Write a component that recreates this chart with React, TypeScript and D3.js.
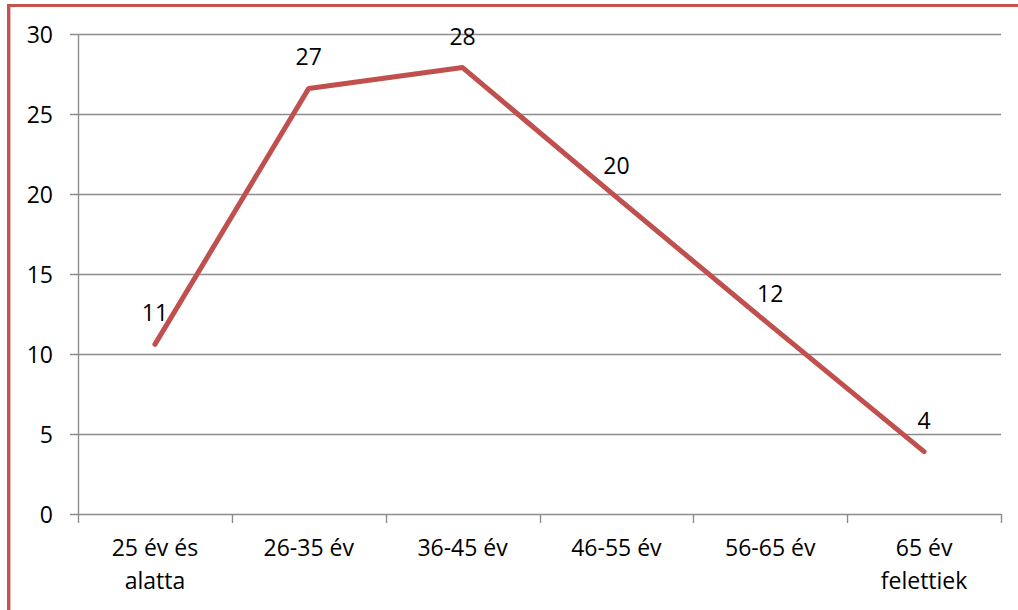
import React from "react";
import * as d3 from "d3";

// Age groups (two-line category labels) and their share values
const categories = ["25 év és|alatta", "26-35 év", "36-45 év", "46-55 év", "56-65 év", "65 év|felettiek"];
const values = [10.6, 26.6, 27.9, 19.8, 11.8, 3.9];
const yTicks = [0, 5, 10, 15, 20, 25, 30];

const W = 1018;
const H = 610;
const FONT = "'Open Sans', sans-serif";
const FONT_SIZE = 23;
const LINE_COLOR = "#C0504D";
const FRAME_COLOR = "#C4524F";
const GRID_COLOR = "#8C8C8C";

export default function App() {
  const x = d3.scaleBand<string>().domain(categories).range([78, 1001]).padding(0);
  const y = d3.scaleLinear().domain([0, 30]).range([514, 34]);
  const cx = (c: string) => (x(c) as number) + x.bandwidth() / 2;
  const fmt = d3.format(".0f");

  const line = d3
    .line<number>()
    .x((_, i) => cx(categories[i]))
    .y((d) => y(d));

  const boundaries = [...categories.map((c) => x(c) as number), x.range()[1]];

  return (
    <svg
      width={W}
      height={H}
      style={{ position: "fixed", left: 0, top: 0, display: "block", background: "#fff" }}
      fontFamily={FONT}
    >
      <rect x={0} y={0} width={W} height={H} fill="#fff" />

      {/* chart frame (top and left edges) */}
      <line x1={7} x2={W} y1={5.5} y2={5.5} stroke={FRAME_COLOR} strokeWidth={3.2} />
      <line x1={8.7} x2={8.7} y1={4} y2={H} stroke={FRAME_COLOR} strokeWidth={3.4} />

      {/* horizontal gridlines with outer tick stubs */}
      {yTicks.map((t) => (
        <line
          key={"g" + t}
          x1={70}
          x2={1001}
          y1={Math.round(y(t)) + 0.5}
          y2={Math.round(y(t)) + 0.5}
          stroke={GRID_COLOR}
          strokeWidth={1.4}
        />
      ))}

      {/* y axis */}
      <line x1={78.5} x2={78.5} y1={y(30)} y2={y(0) + 0.5} stroke={GRID_COLOR} strokeWidth={1.4} />
      {yTicks.map((t) => (
        <text
          key={"yl" + t}
          x={53}
          y={y(t)}
          textAnchor="end"
          dominantBaseline="central"
          fontSize={FONT_SIZE}
          fill="#000"
        >
          {t}
        </text>
      ))}

      {/* x axis tick marks at category boundaries */}
      {boundaries.map((b, i) => (
        <line
          key={"xt" + i}
          x1={Math.round(b) + 0.5}
          x2={Math.round(b) + 0.5}
          y1={y(0)}
          y2={y(0) + 9}
          stroke={GRID_COLOR}
          strokeWidth={1.4}
        />
      ))}

      {/* category labels */}
      {categories.map((c) => {
        const parts = c.split("|");
        return (
          <text key={"xl" + c} x={cx(c)} y={556} textAnchor="middle" fontSize={FONT_SIZE} fill="#000">
            {parts.map((p, j) => (
              <tspan key={j} x={cx(c)} dy={j === 0 ? 0 : 33}>
                {p}
              </tspan>
            ))}
          </text>
        );
      })}

      {/* series line */}
      <path
        d={line(values) ?? ""}
        fill="none"
        stroke={LINE_COLOR}
        strokeWidth={5}
        strokeLinejoin="round"
        strokeLinecap="round"
      />

      {/* data labels */}
      {values.map((v, i) => (
        <text
          key={"dl" + i}
          x={cx(categories[i])}
          y={y(v) - 32}
          textAnchor="middle"
          dominantBaseline="central"
          fontSize={FONT_SIZE}
          fill="#000"
        >
          {fmt(v)}
        </text>
      ))}
    </svg>
  );
}
